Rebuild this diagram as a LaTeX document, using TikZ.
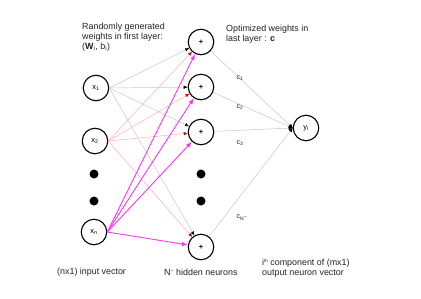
\documentclass[tikz,border=0pt]{standalone}
\usepackage{fontspec}
\setmainfont{Liberation Sans}
\usetikzlibrary{arrows.meta}
\definecolor{edgegray}{HTML}{C8C8C8}
\definecolor{pinkline}{HTML}{FFB0B0}
\definecolor{redtip}{HTML}{D00000}
\definecolor{mag}{HTML}{FF33FF}
\definecolor{txt}{HTML}{222222}
\begin{document}
\begin{tikzpicture}[x=1pt,y=-1pt,
  neuron/.style={circle,draw,line width=1.1pt,minimum size=25.5pt,inner sep=0pt,font=\fontsize{7.5}{8}\selectfont},
  bigdot/.style={circle,fill,minimum size=9pt,inner sep=0pt},
  grayedge/.style={draw=edgegray,line width=0.5pt,-{Latex[length=4pt,width=3.5pt,color=black]}},
  pinkedge/.style={draw=pinkline,line width=0.5pt,-{Latex[length=4pt,width=3.5pt,color=redtip]}},
  magedge/.style={draw=mag,line width=0.9pt,-{Latex[length=6pt,width=4.5pt]}},
  outedge/.style={draw=edgegray,line width=0.5pt,-{Latex[length=4pt,width=4pt,color=black]}},
  lbl/.style={text=txt,font=\fontsize{8.9}{10}\selectfont,align=left,inner sep=0pt},
  clbl/.style={text=txt,font=\fontsize{7}{8}\selectfont,inner sep=0pt}
]
\useasboundingbox (0,0) rectangle (421,298);
% input layer
\node[neuron] (x1) at (96,88) {x\textsubscript{1}};
\node[neuron] (x2) at (95,141) {x\textsubscript{2}};
\node[neuron] (xn) at (94,232) {x\textsubscript{n}};
\node[bigdot] (d1) at (94,174) {};
\node[bigdot] (d2) at (94,201) {};
% hidden layer
\node[neuron] (h1) at (201,42) {\textbf{+}};
\node[neuron] (h2) at (201,87) {\textbf{+}};
\node[neuron] (h3) at (201,132) {\textbf{+}};
\node[neuron] (hN) at (201,247) {\textbf{+}};
\node[bigdot] (d3) at (201,174) {};
\node[bigdot] (d4) at (201,201) {};
% output
\node[neuron] (y) at (306,128) {y\textsubscript{i}};
% edges from x1
\foreach \h in {h1,h2,h3,hN} \draw[grayedge] (x1.east) -- (\h);
% edges from x2
\foreach \h in {h1,h2,h3,hN} \draw[pinkedge] (x2.east) -- (\h);
% edges from xn
\foreach \h in {h1,h2,h3,hN} \draw[magedge] (xn.east) -- (\h);
% hidden to output
\foreach \h in {h1,h2,h3,hN} \draw[outedge] (\h) -- (y.west);
% c labels
\node[clbl] (c1) at (240,78) {c\textsubscript{1}};
\node[clbl] (c2) at (240,107) {c\textsubscript{2}};
\node[clbl] (c3) at (240,143) {c\textsubscript{3}};
\node[clbl] (cN) at (242,218) {c\textsubscript{N\raisebox{2.5pt}{\fontsize{5}{5}\selectfont\textasciitilde}}};
% texts
\node[lbl,anchor=west] (t1) at (82,37) {Randomly generated\\weights in first layer:\\(\textbf{W}\textsubscript{i}, b\textsubscript{i})};
\node[lbl,anchor=west] (t2) at (226,34) {Optimized weights in\\last layer : \textbf{c}};
\node[lbl,anchor=west] (t3) at (57,272) {(nx1) input vector};
\node[lbl,anchor=west] (t4) at (164,272) {N\raisebox{3pt}{\scalebox{0.6}{\textasciitilde}} hidden neurons};
\node[lbl,anchor=west] (t5) at (262,268) {i\raisebox{2.5pt}{\fontsize{4.5}{5}\selectfont th} component of (mx1)\\output neuron vector};
\end{tikzpicture}
\end{document}
